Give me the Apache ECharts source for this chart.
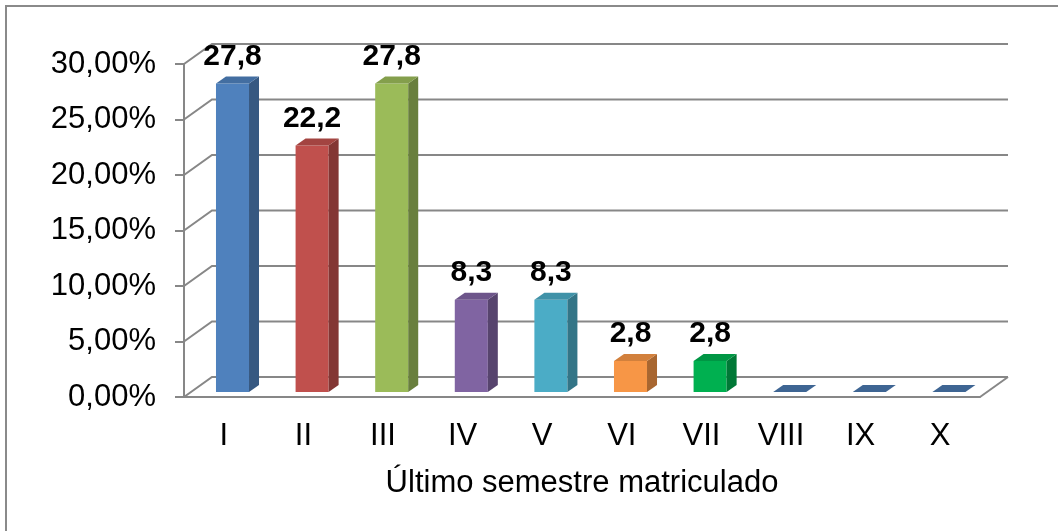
<!DOCTYPE html>
<html>
<head>
<meta charset="utf-8">
<script src="https://cdn.jsdelivr.net/npm/echarts@6/dist/echarts.min.js"></script>
<style>
  html, body { margin: 0; padding: 0; background: #fff; }
  #chart { width: 1058px; height: 531px; }
</style>
</head>
<body>
<div id="chart"></div>
<script>
// categorias e valores (%)
var categories = ['I', 'II', 'III', 'IV', 'V', 'VI', 'VII', 'VIII', 'IX', 'X']
var values = [27.8, 22.2, 27.8, 8.3, 8.3, 2.8, 2.8, 0, 0, 0]
var yTicks = [0, 5, 10, 15, 20, 25, 30]
var barColors = ['#4F81BD', '#C0504D', '#9BBB59', '#8064A2', '#4BACC6', '#F79646', '#00B050', '#4F81BD', '#4F81BD', '#4F81BD']

var FONT = "'Liberation Sans', Arial, sans-serif"
var GRID_COLOR = '#878787'
// profundidade da parede (3D)
var DX = 28, DY = -20
// deslocamento da face frontal da barra e espessura lateral
var OFF_X = 8.7, OFF_Y = -5, SX = 10, SY = -7

function shade(hex, k) {
  var n = parseInt(hex.slice(1), 16)
  var r = Math.round(((n >> 16) & 255) * k)
  var g = Math.round(((n >> 8) & 255) * k)
  var b = Math.round((n & 255) * k)
  return 'rgb(' + r + ',' + g + ',' + b + ')'
}

function fmtLabel(v) {
  return v.toFixed(1).replace('.', ',')
}

var chart = echarts.init(document.getElementById('chart'))

var options = {
  backgroundColor: '#fff',
  animation: false,
  graphic: [{
    type: 'rect',
    shape: { x: 6, y: 6, width: 1070, height: 540 },
    style: { fill: 'none', stroke: '#8a8a8a', lineWidth: 2 },
    silent: true
  }],
  grid: { left: 184, right: 78, top: 64, bottom: 134 },
  xAxis: {
    type: 'category',
    data: categories,
    name: 'Último semestre matriculado',
    nameLocation: 'middle',
    nameGap: 71,
    nameTextStyle: { fontFamily: FONT, fontSize: 31, color: '#000' },
    axisLine: { lineStyle: { color: GRID_COLOR, width: 2 } },
    axisTick: { length: 8, lineStyle: { color: GRID_COLOR, width: 2 } },
    axisLabel: { fontFamily: FONT, fontSize: 31, color: '#000', margin: 24 },
    splitLine: { show: false }
  },
  yAxis: {
    type: 'value',
    min: 0,
    max: 30,
    interval: 5,
    axisLine: { show: true, lineStyle: { color: GRID_COLOR, width: 2 } },
    axisTick: { show: true, length: 9, lineStyle: { color: GRID_COLOR, width: 2 } },
    axisLabel: {
      fontFamily: FONT, fontSize: 31, color: '#000', margin: 28,
      formatter: function (v) { return v.toFixed(2).replace('.', ',') + '%' }
    },
    splitLine: { show: false }
  },
  series: [
    {
      // parede do fundo + linhas de grade
      type: 'custom',
      clip: false,
      silent: true,
      z: 1,
      data: yTicks.map(function (v) { return [0, v] }),
      renderItem: function (params, api) {
        var v = api.value(1)
        var cw = api.size([1, 0])[0]
        var p = api.coord([0, v])
        var xl = p[0] - cw / 2
        var xr = api.coord([categories.length - 1, v])[0] + cw / 2
        var y = p[1]
        var children = [{
          type: 'polyline',
          shape: { points: [[xl, y], [xl + DX, y + DY], [xr + DX, y + DY]] },
          style: { stroke: GRID_COLOR, lineWidth: 2, fill: null }
        }]
        if (v === 0) {
          children.push({
            type: 'line',
            shape: { x1: xr, y1: y, x2: xr + DX, y2: y + DY },
            style: { stroke: GRID_COLOR, lineWidth: 2 }
          })
        }
        return { type: 'group', children: children }
      }
    },
    {
      // barras 3D
      type: 'custom',
      clip: false,
      z: 3,
      data: values.map(function (v, i) { return [i, v] }),
      renderItem: function (params, api) {
        var i = api.value(0)
        var v = api.value(1)
        var cw = api.size([1, 0])[0]
        var bw = cw * 0.415
        var base = api.coord([i, 0])
        var top = api.coord([i, v])
        var x0 = base[0] + OFF_X - bw / 2
        var x1 = x0 + bw
        var yb = base[1] + OFF_Y
        var yt = top[1] + OFF_Y
        var col = barColors[i]
        var children = []
        if (v > 0) {
          children.push({
            type: 'rect',
            shape: { x: x0, y: yt, width: bw, height: yb - yt },
            style: { fill: col }
          })
          children.push({
            type: 'polygon',
            shape: { points: [[x1, yb], [x1 + SX, yb + SY], [x1 + SX, yt + SY], [x1, yt]] },
            style: { fill: shade(col, 0.68) }
          })
          children.push({
            type: 'polygon',
            shape: { points: [[x0, yt], [x1, yt], [x1 + SX, yt + SY], [x0 + SX, yt + SY]] },
            style: { fill: shade(col, 0.85) }
          })
          children.push({
            type: 'text',
            style: {
              text: fmtLabel(v),
              x: x0 + bw / 2,
              y: yt + SY - 5,
              align: 'center',
              verticalAlign: 'bottom',
              fontFamily: FONT,
              fontWeight: 'bold',
              fontSize: 30,
              fill: '#000'
            }
          })
        } else {
          children.push({
            type: 'polygon',
            shape: { points: [[x0, yb], [x1, yb], [x1 + SX, yb + SY], [x0 + SX, yb + SY]] },
            style: { fill: shade(col, 0.78) }
          })
        }
        return { type: 'group', children: children }
      }
    }
  ]
}

chart.setOption(options)
</script>
</body>
</html>
